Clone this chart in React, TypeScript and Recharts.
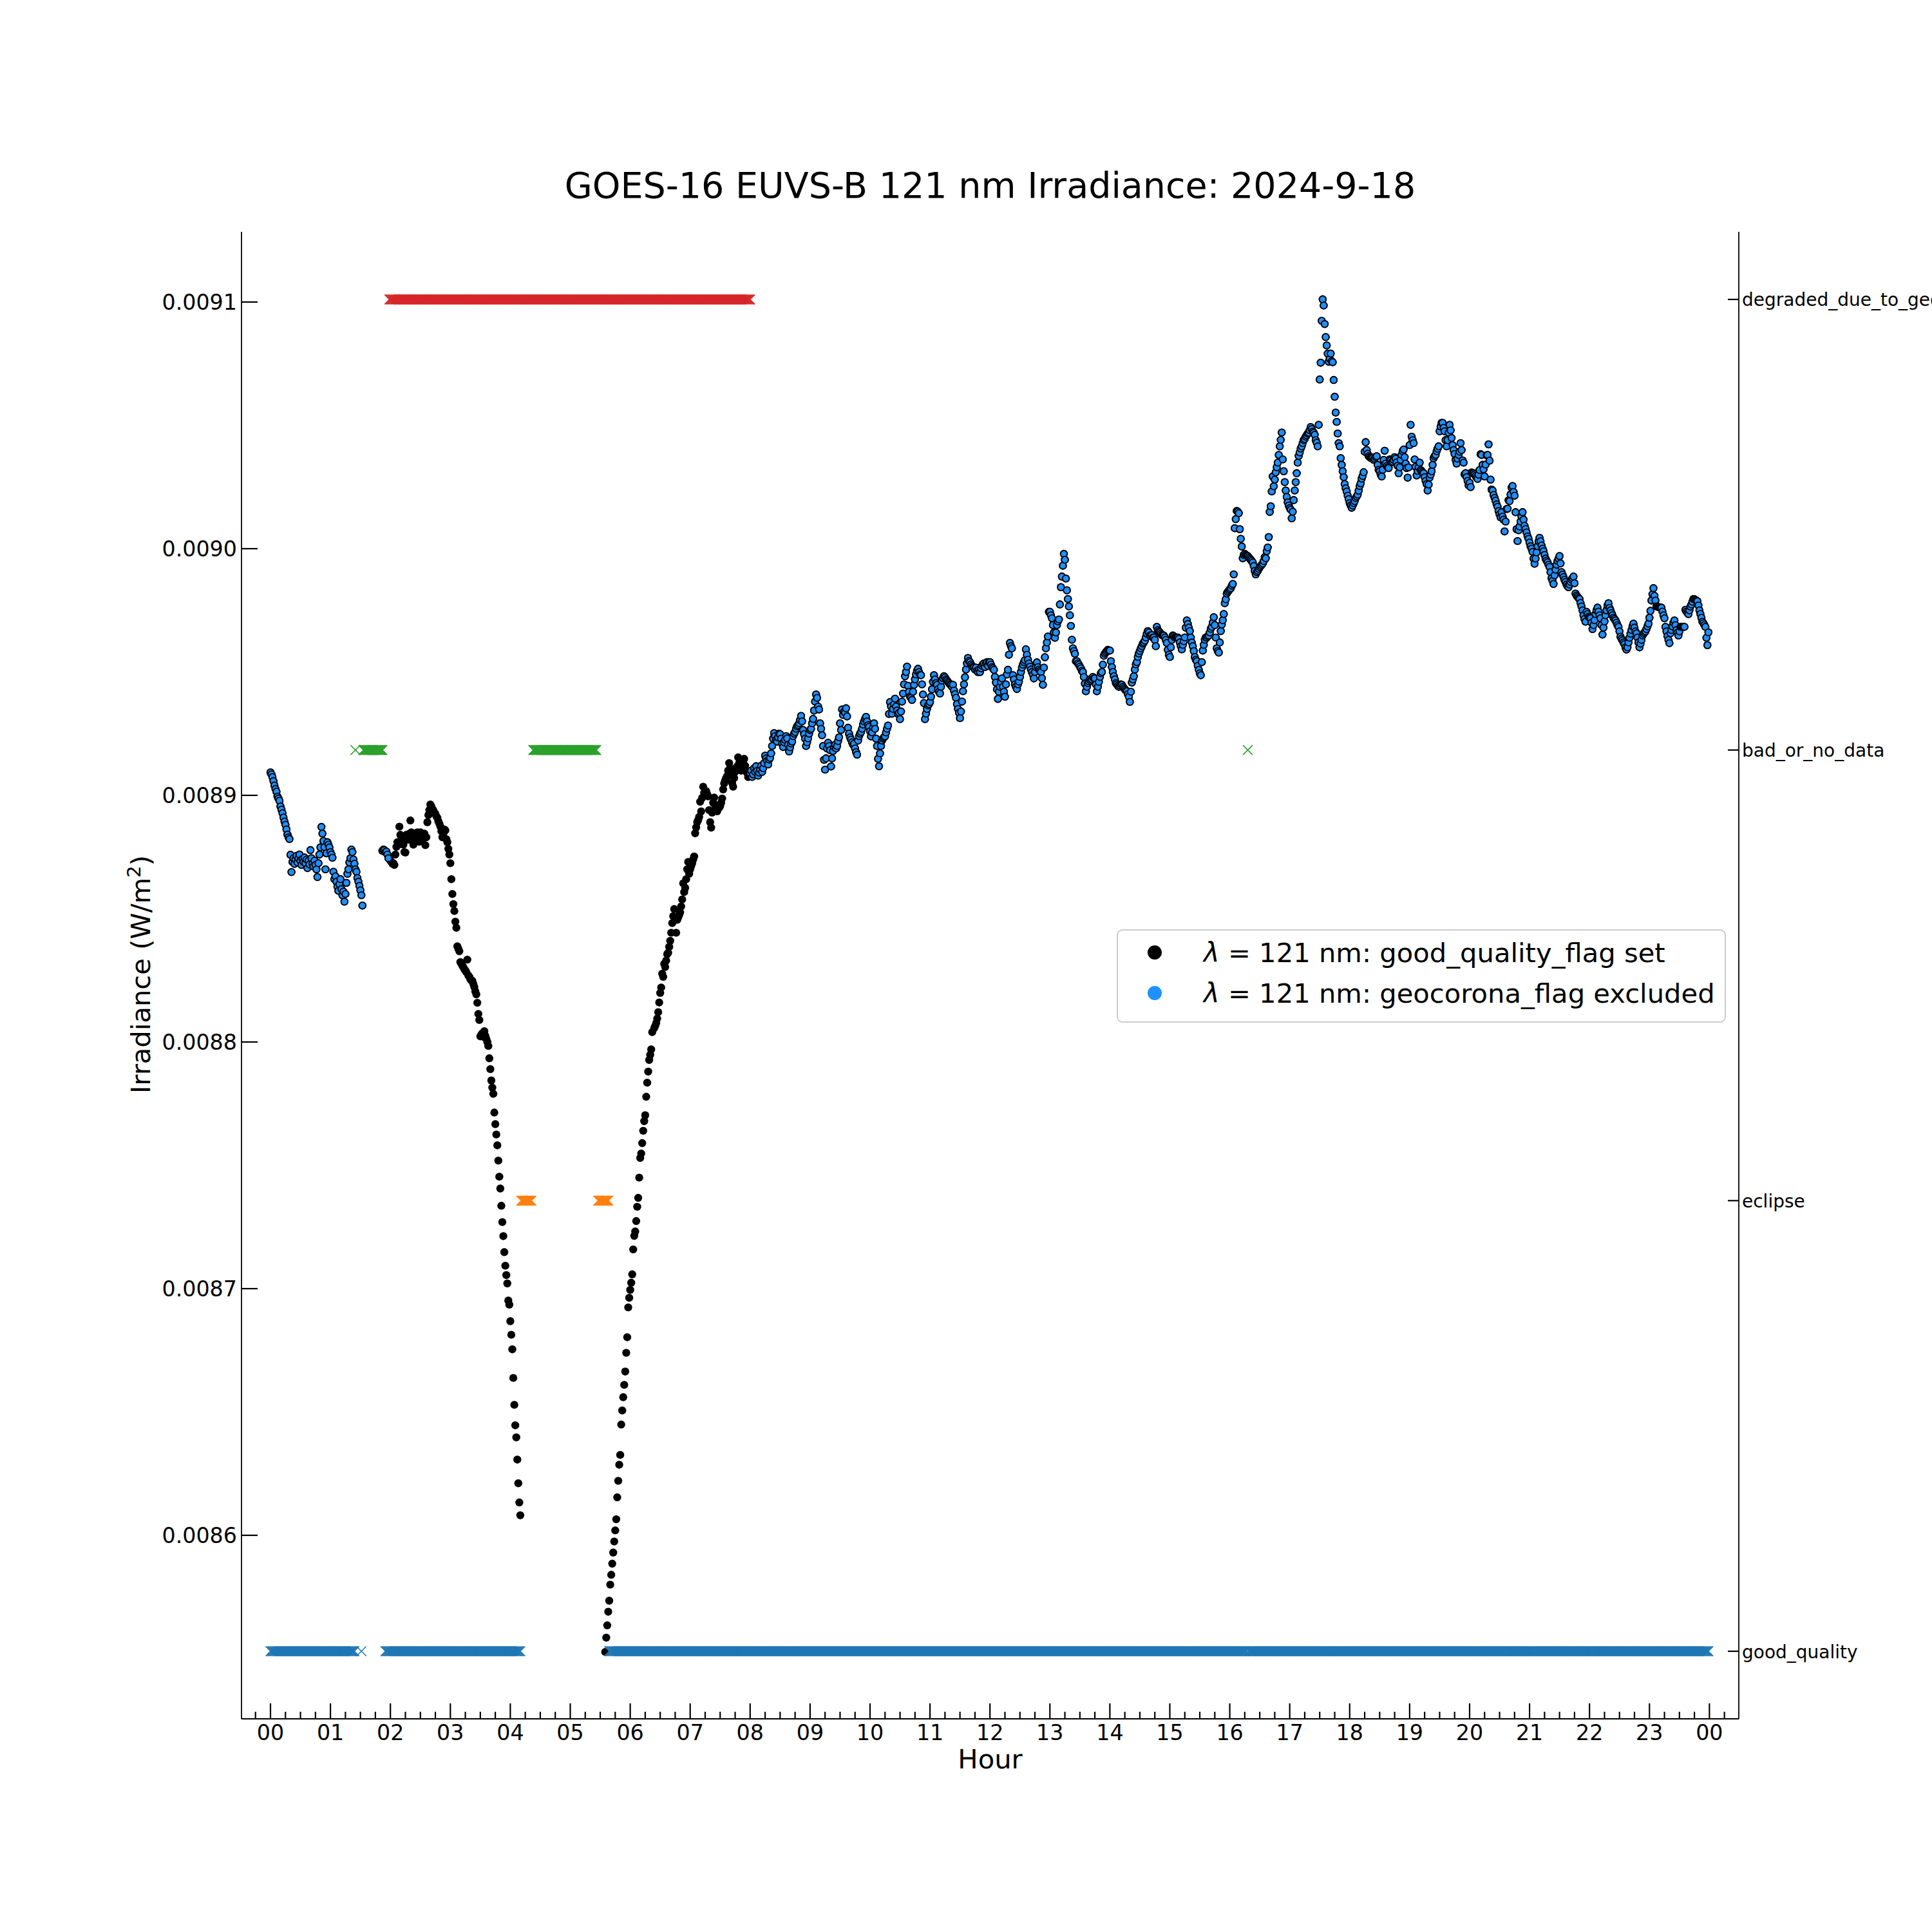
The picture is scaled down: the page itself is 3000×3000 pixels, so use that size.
import React from 'react';
import { ScatterChart, Scatter, XAxis, YAxis } from 'recharts';

// ---------- text ----------
const TITLE = 'GOES-16 EUVS-B 121 nm Irradiance: 2024-9-18';
const X_LABEL = 'Hour';
const HOUR_LABELS = ['00','01','02','03','04','05','06','07','08','09','10','11','12','13','14','15','16','17','18','19','20','21','22','23','00'];
const IRR_TICKS = [0.0086, 0.0087, 0.0088, 0.0089, 0.009, 0.0091];
const IRR_TICK_LABELS = ['0.0086', '0.0087', '0.0088', '0.0089', '0.0090', '0.0091'];
const FLAG_NAMES = ['good_quality', 'eclipse', 'bad_or_no_data', 'degraded_due_to_geocorona'];
const FLAG_COLORS = ['#1f77b4', '#ff7f0e', '#2ca02c', '#d62728'];
const LEGEND_LABELS = [' = 121 nm: good_quality_flag set', ' = 121 nm: geocorona_flag excluded'];

// ---------- flag intervals (minute of day, inclusive) ----------
const FLAG_GOOD = [[0, 84], [91, 91], [115, 250], [339, 977], [979, 1439]];
const FLAG_ECLIPSE = [[251, 261], [328, 338]];
const FLAG_BAD = [[85, 85], [93, 112], [263, 326], [978, 978]];
const FLAG_DEGRADED = [[119, 480]];

// ---------- irradiance, units of 1e-7 W/m^2, one value per minute from each segment start ----------
const SEG_A_START = 0;
const SEG_A = [89093, 89085, 89074, 89058, 89040, 89026, 89015, 88995, 88987, 88978, 88955, 88942, 88928, 88910, 88894, 88881, 88862, 88841, 88830, 88823, 88759, 88689, 88730, 88745, 88722, 88740, 88755, 88728, 88745, 88760, 88735, 88718, 88742, 88730, 88748, 88725, 88740, 88705, 88735, 88720, 88778, 88745, 88722, 88712, 88735, 88718, 88700, 88669, 88725, 88760, 88789, 88872, 88845, 88815, 88790, 88700, 88765, 88810, 88800, 88789, 88770, 88760, 88747, 88690, 88660, 88672, 88650, 88630, 88613, 88640, 88660, 88620, 88595, 88610, 88569, 88600, 88645, 88682, 88700, 88728, 88745, 88780, 88770, 88740, 88723, 88700, 88690, 88665, 88650, 88633, 88615, 88595, 88553];
const SEG_B_START = 112;
const SEG_B = [88775, 88780, 88778, 88770, 88772, 88760, 88745, 88748, 88735, 88730, 88723, 88725, 88718, 88760, 88791, 88810, 88800, 88873, 88840, 88830, 88815, 88800, 88770, 88768, 88840, 88825, 88820, 88845, 88898, 88850, 88835, 88800, 88815, 88830, 88845, 88850, 88830, 88812, 88850, 88840, 88820, 88835, 88845, 88798, 88830, 88891, 88920, 88940, 88963, 88955, 88945, 88939, 88930, 88925, 88915, 88909, 88895, 88885, 88874, 88855, 88830, 88845, 88862, 88858, 88822, 88810, 88783, 88760];
const SEG_C_START = 180;
const SEG_C = [88725, 88660, 88600, 88559, 88531, 88488, 88463, 88388, 88378, 88368, 88324, 88318, 88310, 88303, 88295, 88290, 88283, 88334, 88270, 88264, 88255, 88250, 88248, 88235, 88223, 88205, 88193, 88159, 88114, 88089, 88023, 88030, 88035, 88021, 88044, 88025, 88013, 88000, 87984, 87934, 87890, 87844, 87815, 87790, 87714, 87667, 87625, 87581, 87519, 87454, 87406, 87336, 87270, 87213, 87148, 87093, 87055, 87021, 86952, 86935, 86868, 86813, 86754, 86638, 86529, 86446, 86397, 86307, 86211, 86133, 86081];
const SEG_D_START = 335;
const SEG_D = [85527, 85585, 85635, 85690, 85735, 85800, 85840, 85885, 85930, 85975, 86020, 86065, 86154, 86221, 86286, 86326, 86449, 86506, 86560, 86610, 86664, 86740, 86803, 86924, 86963, 86995, 87024, 87058, 87159, 87214, 87232, 87274, 87332, 87368, 87450, 87530, 87548, 87590, 87640, 87679, 87703, 87778, 87835, 87880, 87927, 87948, 87970, 88040];
const SEG_E_START = 384;
const SEG_E = [88056, 88065, 88077, 88095, 88121, 88160, 88199, 88221, 88277, 88264, 88317, 88304, 88330, 88356, 88362, 88386, 88410, 88443, 88482, 88510, 88539, 88500, 88443, 88495, 88505, 88515, 88526, 88550, 88578, 88643, 88608, 88625, 88660, 88700, 88730, 88682, 88700, 88713, 88725, 88740, 88752, 88846, 88870, 88891, 88900, 88913, 88974, 88935, 88990, 89035, 89010, 89000, 89017, 89005, 88996, 88940, 88891, 88869, 88930, 88970, 88991, 88961, 88950, 88935, 88945, 88950, 88956, 88970, 88987, 89024, 89048, 89060, 89070, 89078, 89100, 89131, 89110, 89080, 89050, 89035, 89070, 89095, 89110, 89117, 89154, 89130, 89115, 89100, 89120, 89140, 89148, 89120, 89100, 89091, 89074, 89085];
const SEG_F_START = 480;
const SEG_F = [
  89090, 89100, 89075, 89085, 89110, 89095, 89118, 89100, 89080, 89092,
  89105, 89120, 89095, 89110, 89130, 89161, 89150, 89140, 89125, 89145,
  89152, 89170, 89200, 89230, 89252, 89240, 89225, 89218, 89235, 89250,
  89248, 89230, 89210, 89196, 89215, 89225, 89240, 89231, 89205, 89178,
  89195, 89210, 89218, 89240, 89250, 89257, 89270, 89280, 89285, 89292,
  89305, 89322, 89300, 89265, 89248, 89230, 89200, 89215, 89231, 89250,
  89265, 89270, 89292, 89310, 89344, 89380, 89409, 89395, 89360, 89348,
  89292, 89270, 89244, 89200, 89144, 89104, 89150, 89190, 89213, 89200,
  89183, 89117, 89150, 89180, 89196, 89205, 89190, 89200, 89220, 89235,
  89292, 89265, 89348, 89326, 89340, 89335, 89353, 89320, 89274, 89250,
  89235, 89226, 89215, 89205, 89209, 89190, 89175, 89165, 89222, 89240,
  89250, 89257, 89270, 89287, 89300, 89310, 89318, 89300, 89285, 89278,
  89260, 89239, 89255, 89275, 89292, 89270, 89230, 89200, 89148, 89118,
  89170, 89200, 89222, 89230, 89235, 89239, 89255, 89270, 89283, 89330,
  89378, 89360, 89331, 89350, 89370, 89392, 89360, 89344, 89330, 89335,
  89309, 89340, 89380, 89413, 89450, 89483, 89500, 89522, 89444, 89420,
  89400, 89395, 89387, 89420, 89448, 89470, 89490, 89505, 89513, 89500,
  89490, 89487, 89450, 89409, 89374, 89309, 89331, 89350, 89365, 89370,
  89378, 89400, 89430, 89460, 89487, 89470, 89455, 89448, 89430, 89420,
  89413, 89440, 89465, 89475, 89483, 89478, 89470, 89466, 89460, 89455,
  89450, 89448, 89440, 89448, 89425, 89410, 89396, 89370, 89350, 89335,
  89313, 89340, 89380, 89422, 89450, 89479, 89510, 89535, 89557, 89545,
  89540, 89531, 89525, 89520, 89518, 89510, 89518, 89505, 89500, 89510,
  89500, 89515, 89525, 89531, 89535, 89520, 89535, 89540, 89525, 89540,
  89540, 89530, 89520, 89515, 89509, 89480, 89457, 89430, 89391, 89420,
  89440, 89460, 89474, 89440, 89420, 89400, 89450, 89490, 89509, 89570,
  89618, 89605, 89596, 89487, 89470, 89450, 89440, 89431, 89450, 89461,
  89480, 89500, 89518, 89530, 89540, 89548, 89592, 89570, 89550, 89535,
  89522, 89510, 89500, 89490, 89474, 89500, 89520, 89539, 89520, 89510,
  89505, 89500, 89475, 89448, 89518, 89560, 89596, 89620, 89644, 89744,
  89744, 89730, 89718, 89690, 89660, 89639, 89660, 89690, 89705, 89713,
];
const SEG_G_START = 790;
const SEG_G = [89774, 89844, 89887, 89931, 89979, 89955, 89879, 89831, 89796, 89766, 89730, 89687, 89631, 89596, 89585, 89574, 89544];
const SEG_H_START = 807;
const SEG_H = [
  89544, 89535, 89530, 89522, 89515, 89505, 89500, 89480, 89453, 89422,
  89440, 89455, 89462, 89470, 89465, 89470, 89480, 89474, 89474, 89450,
  89422, 89440, 89460, 89480, 89495, 89500, 89530, 89566, 89575, 89580,
  89585, 89590, 89587, 89587, 89544, 89520, 89500, 89483, 89470, 89455,
  89450, 89444, 89440, 89445, 89450, 89448, 89440, 89435, 89430, 89425,
  89422, 89410, 89400, 89379, 89420, 89457, 89470, 89483, 89510, 89531,
  89540, 89561, 89575, 89585, 89596, 89605, 89615, 89620, 89627, 89640,
  89655, 89666, 89660, 89648, 89645, 89650, 89640, 89640, 89630, 89605,
  89683, 89670, 89665, 89661, 89655, 89650, 89648, 89648, 89640, 89630,
  89618, 89590, 89570, 89561, 89600, 89630, 89648, 89645, 89640, 89640,
  89640, 89640, 89635, 89620, 89605, 89592, 89610, 89625, 89640, 89680,
  89709, 89695, 89680, 89666, 89640, 89620, 89605, 89585, 89561, 89550,
  89544, 89525, 89509, 89495, 89487, 89540, 89587, 89610, 89631, 89640,
  89640, 89645, 89648, 89660, 89675, 89683, 89700, 89722, 89690, 89640,
  89596, 89585, 89579, 89620, 89666, 89692, 89710, 89735, 89779, 89795,
  89818, 89825, 89830, 89835, 89840, 89850, 89857, 89896, 90083, 90120,
  90153, 90150, 90144, 90079, 90040, 90009, 89961, 89975, 89979, 89975,
  89972, 89970, 89965, 89960, 89955, 89950, 89944, 89930, 89910, 89896,
  89905, 89910, 89918, 89925, 89930, 89935, 89940, 89950, 89966, 89961,
  89990, 90005, 90047, 90149, 90172, 90232, 90293, 90253, 90280, 90310,
  90330, 90349, 90380, 90415, 90441, 90471, 90362, 90314, 90270, 90236,
  90210, 90188, 90175, 90165, 90158, 90123, 90150, 90197, 90236, 90270,
  90306, 90349, 90376, 90390, 90406, 90415, 90428, 90440, 90445, 90454,
  90460, 90467, 90470, 90480, 90493, 90485, 90475, 90470, 90462, 90440, 90430,
];
const SEG_I_START = 1048;
const SEG_I = [90415, 90502, 90686, 90754, 90924, 91011, 90986, 90911, 90858, 90824, 90791, 90758, 90770, 90791, 90760, 90756, 90684, 90616, 90552, 90514, 90467, 90428, 90415, 90367, 90340, 90314, 90290, 90262, 90245, 90232, 90215, 90201, 90185, 90175, 90166];
const SEG_J_START = 1083;
const SEG_J = [
  90175, 90185, 90193, 90205, 90212, 90219, 90235, 90254, 90265, 90284,
  90295, 90310, 90393, 90432, 90400, 90385, 90375, 90371, 90368, 90370,
  90367, 90360, 90365, 90372, 90375, 90340, 90320, 90314, 90300, 90293,
  90320, 90360, 90397, 90345, 90335, 90330, 90327, 90362, 90358, 90350,
  90353, 90360, 90371, 90365, 90350, 90336, 90306, 90330, 90360, 90380,
  90395, 90402, 90371, 90345, 90327, 90288, 90330, 90420, 90502, 90454,
  90440, 90428, 90362, 90332, 90297, 90315, 90330, 90349, 90319, 90315,
  90310, 90306, 90290, 90275, 90262, 90236, 90260, 90288, 90300, 90314,
  90340, 90367, 90375, 90380, 90395, 90405, 90415, 90476, 90495, 90510,
  90510, 90490, 90476, 90440, 90415, 90440, 90470, 90502, 90480, 90449,
  90420, 90400, 90384, 90360, 90345, 90365, 90380, 90393, 90428, 90400,
  90358, 90349, 90301, 90306, 90290, 90275, 90257, 90267, 90250, 90309,
  90306, 90306, 90301, 90295, 90288, 90283, 90300, 90319, 90383, 90380,
  90340, 90322, 90293, 90341, 90379, 90380, 90423, 90357, 90280, 90240,
  90236, 90218, 90206, 90195, 90180, 90170, 90153, 90140, 90127, 90148,
  90130, 90118, 90070, 90110, 90161, 90162, 90196, 90193, 90220, 90248,
  90254, 90230, 90215, 90148, 90079, 90031, 90075, 90090, 90110, 90130,
  90148, 90118, 90093, 90080, 90066, 90050, 90040, 90025, 90010, 90000,
  89987, 89960, 89939, 89960, 89985, 90010, 90030, 90044, 90030, 90013,
  90000, 89990, 89975, 89960, 89952, 89945, 89935, 89926, 89905, 89880,
  89870, 89857, 89892, 89915, 89935, 89950, 89960, 89970, 89940, 89905,
  89895, 89885, 89874, 89865, 89855, 89848, 89844, 89855, 89865, 89875,
  89880, 89887, 89860, 89818, 89810, 89805, 89800, 89796, 89780, 89766,
  89750, 89730, 89715, 89704, 89744, 89735, 89725, 89720, 89718, 89700,
  89674, 89690, 89710, 89735, 89750, 89761, 89745, 89730, 89718, 89690,
  89652, 89680, 89705, 89730, 89750, 89770, 89779, 89760, 89750, 89739,
  89730, 89720, 89715, 89709, 89700, 89690, 89683, 89665, 89643, 89635,
  89628, 89620, 89613, 89600, 89591, 89600, 89620, 89639, 89655, 89670,
  89685, 89696, 89680, 89665, 89657, 89640, 89620, 89600, 89615, 89630,
  89648, 89655, 89660, 89665, 89674, 89685, 89696, 89720, 89748, 89790,
  89815, 89840, 89809, 89790, 89766, 89765, 89763, 89762, 89762, 89761,
  89745, 89730, 89718, 89683, 89665, 89645, 89630, 89617, 89657, 89670,
  89685, 89700, 89709, 89690, 89670, 89660, 89648, 89665, 89683, 89683,
  89683, 89683, 89683, 89752, 89745, 89740, 89735, 89750, 89765, 89774,
  89785, 89796, 89795, 89792, 89790, 89787, 89770, 89750, 89735, 89720,
  89704, 89698, 89690, 89683, 89639, 89609, 89661,
];

const IRR_UNIT = 1e-7;
const BLUE_END_BEFORE = 119; // minutes < this are geocorona-excluded (blue)
const BLUE_START_AFTER = 480; // minutes >= this are blue

// ---------- built tables ----------
const SEGMENTS = [
  { start: SEG_A_START, values: SEG_A },
  { start: SEG_B_START, values: SEG_B },
  { start: SEG_C_START, values: SEG_C },
  { start: SEG_D_START, values: SEG_D },
  { start: SEG_E_START, values: SEG_E },
  { start: SEG_F_START, values: SEG_F },
  { start: SEG_G_START, values: SEG_G },
  { start: SEG_H_START, values: SEG_H },
  { start: SEG_I_START, values: SEG_I },
  { start: SEG_J_START, values: SEG_J },
];
const irrPoints = SEGMENTS.flatMap((s) =>
  s.values.map((v, i) => {
    const m = s.start + i;
    return { x: m / 60, y: v * IRR_UNIT, m };
  })
);
const blackData = irrPoints;
const blueData = irrPoints.filter((p) => p.m < BLUE_END_BEFORE || p.m >= BLUE_START_AFTER);

const expandFlag = (intervals: number[][], level: number) => {
  const out: { x: number; y: number }[] = [];
  intervals.forEach(([a, b]) => {
    for (let m = a; m <= b; m++) out.push({ x: m / 60, y: level });
  });
  return out;
};
const flagGood = expandFlag(FLAG_GOOD, 0);
const flagEclipse = expandFlag(FLAG_ECLIPSE, 1);
const flagBad = expandFlag(FLAG_BAD, 2);
const flagDegraded = expandFlag(FLAG_DEGRADED, 3);

const X_DOMAIN: [number, number] = [-0.4834, 24.49];
const Y_DOMAIN: [number, number] = [0.00852559, 0.00912846];
const FLAG_DOMAIN: [number, number] = [-0.15, 3.15];
const X_TICKS: number[] = [];
for (let q = -1; q <= 97; q++) X_TICKS.push(q / 4);

const FONT = 'DejaVu Sans';

// ---------- shapes ----------
const BlackDot = (p: any) => <circle cx={p.cx} cy={p.cy} r={6.2} fill="#000000" />;
const BlueDot = (p: any) => (
  <circle cx={p.cx} cy={p.cy} r={5.3} fill="#1e90ff" stroke="#000000" strokeWidth={1.8} />
);
const makeCross = (color: string) => (p: any) => {
  const s = 7.5;
  return (
    <path
      d={`M${p.cx - s},${p.cy - s}L${p.cx + s},${p.cy + s}M${p.cx - s},${p.cy + s}L${p.cx + s},${p.cy - s}`}
      stroke={color}
      strokeWidth={1.5}
      fill="none"
    />
  );
};

// ---------- ticks ----------
const XTick = (props: any) => {
  const { x, y, payload } = props;
  const v = payload.value as number;
  const isMajor = Math.abs(v - Math.round(v)) < 1e-6;
  return (
    <g>
      <line x1={x} x2={x} y1={y} y2={y - (isMajor ? 24 : 11)} stroke="#000" strokeWidth={2.2} />
      {isMajor && v >= 0 && v <= 24 ? (
        <text x={x} y={y + 33} textAnchor="middle" fontSize={33.3} fontFamily={FONT} fill="#000">
          {HOUR_LABELS[Math.round(v)]}
        </text>
      ) : null}
    </g>
  );
};
const LeftTick = (props: any) => {
  const { x, y, payload } = props;
  const idx = IRR_TICKS.findIndex((t) => Math.abs(t - payload.value) < 1e-9);
  return (
    <g>
      <line x1={x} x2={x + 25} y1={y} y2={y} stroke="#000" strokeWidth={2.2} />
      <text x={x - 7} y={y + 12.2} textAnchor="end" fontSize={33.3} fontFamily={FONT} fill="#000">
        {IRR_TICK_LABELS[idx]}
      </text>
    </g>
  );
};
const RightTick = (props: any) => {
  const { x, y, payload } = props;
  return (
    <g>
      <line x1={x - 17} x2={x} y1={y} y2={y} stroke="#000" strokeWidth={2.2} />
      <text x={x + 5} y={y + 10.5} textAnchor="start" fontSize={28} fontFamily={FONT} fill="#000">
        {FLAG_NAMES[Math.round(payload.value)]}
      </text>
    </g>
  );
};

export default function App() {
  return (
    <div style={{ position: 'absolute', left: 0, top: 0, width: 3000, height: 3000, background: '#fff' }}>
      <ScatterChart width={3000} height={3000} margin={{ top: 360, right: 0, bottom: 0, left: 0 }}>
        <XAxis
          xAxisId="h"
          dataKey="x"
          type="number"
          domain={X_DOMAIN}
          allowDataOverflow
          ticks={X_TICKS}
          interval={0}
          height={331}
          tickSize={0}
          tickMargin={0}
          tickLine={false}
          tick={<XTick />}
          axisLine={{ stroke: '#000', strokeWidth: 1.8 }}
        />
        <XAxis
          xAxisId="top"
          orientation="top"
          type="number"
          domain={X_DOMAIN}
          allowDataOverflow
          height={0}
          tick={false}
          tickLine={false}
          axisLine={{ stroke: '#000', strokeWidth: 1.8 }}
        />
        <YAxis
          yAxisId="irr"
          dataKey="y"
          type="number"
          domain={Y_DOMAIN}
          allowDataOverflow
          ticks={IRR_TICKS}
          interval={0}
          width={375}
          tickSize={0}
          tickMargin={0}
          tickLine={false}
          tick={<LeftTick />}
          axisLine={{ stroke: '#000', strokeWidth: 1.8 }}
        />
        <YAxis
          yAxisId="flag"
          orientation="right"
          dataKey="y"
          type="number"
          domain={FLAG_DOMAIN}
          allowDataOverflow
          ticks={[0, 1, 2, 3]}
          interval={0}
          width={300}
          tickSize={0}
          tickMargin={0}
          tickLine={false}
          tick={<RightTick />}
          axisLine={{ stroke: '#000', strokeWidth: 1.8 }}
        />
        <Scatter xAxisId="h" yAxisId="irr" data={blackData} shape={BlackDot} isAnimationActive={false} />
        <Scatter xAxisId="h" yAxisId="irr" data={blueData} shape={BlueDot} isAnimationActive={false} />
        <Scatter xAxisId="h" yAxisId="flag" data={flagGood} shape={makeCross(FLAG_COLORS[0])} isAnimationActive={false} />
        <Scatter xAxisId="h" yAxisId="flag" data={flagEclipse} shape={makeCross(FLAG_COLORS[1])} isAnimationActive={false} />
        <Scatter xAxisId="h" yAxisId="flag" data={flagBad} shape={makeCross(FLAG_COLORS[2])} isAnimationActive={false} />
        <Scatter xAxisId="h" yAxisId="flag" data={flagDegraded} shape={makeCross(FLAG_COLORS[3])} isAnimationActive={false} />
      </ScatterChart>
      <svg
        width={3000}
        height={3000}
        style={{ position: 'absolute', left: 0, top: 0, pointerEvents: 'none' }}
        fontFamily={FONT}
      >
        <text x={1537.5} y={307} textAnchor="middle" fontSize={55.5} fill="#000">{TITLE}</text>
        <text x={1537.5} y={2746} textAnchor="middle" fontSize={41.7} fill="#000">{X_LABEL}</text>
        <text x={233} y={1513} textAnchor="middle" fontSize={41.7} fill="#000" transform="rotate(-90 233 1513)">
          Irradiance (W/m<tspan fontSize={29} dy={-15}>2</tspan><tspan dy={15}>)</tspan>
        </text>
        <rect x={1735} y={1444} width={944} height={143} rx={8} ry={8} fill="#ffffff" fillOpacity={0.8} stroke="#cccccc" strokeWidth={2} />
        <circle cx={1793} cy={1479} r={11} fill="#000000" />
        <circle cx={1793} cy={1542} r={11} fill="#1e90ff" />
        <text x={1869} y={1494} fontSize={41.7} fill="#000">
          <tspan fontStyle="italic">λ</tspan>{LEGEND_LABELS[0]}
        </text>
        <text x={1869} y={1557} fontSize={41.7} fill="#000">
          <tspan fontStyle="italic">λ</tspan>{LEGEND_LABELS[1]}
        </text>
      </svg>
    </div>
  );
}
